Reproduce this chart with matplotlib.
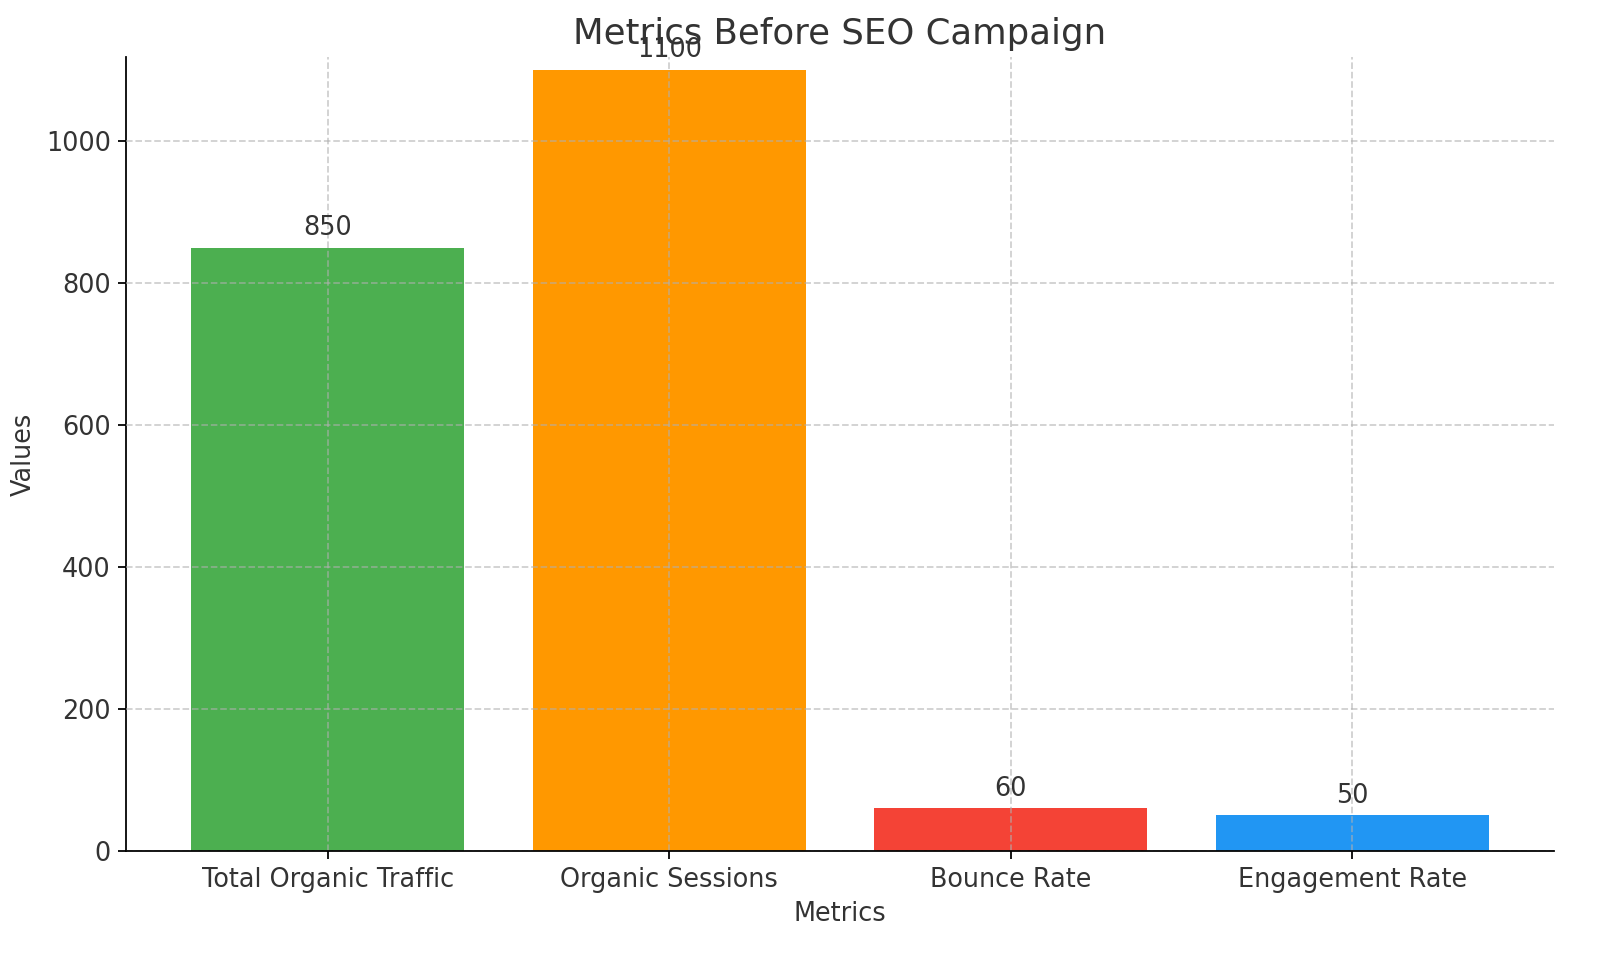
import matplotlib
matplotlib.use("Agg")
import matplotlib.pyplot as plt

metrics = ["Total Organic Traffic", "Organic Sessions", "Bounce Rate", "Engagement Rate"]
values = [850, 1100, 60, 50]
colors = ["#4CAF50", "#FF9800", "#F44336", "#2196F3"]

fig, ax = plt.subplots(figsize=(10, 5.9625), dpi=160)
bars = ax.bar(metrics, values, color=colors)
for b, v in zip(bars, values):
    ax.annotate(f"{v}", (b.get_x() + b.get_width() / 2, v), xytext=(0, 3),
                textcoords="offset points", ha="center", va="bottom", fontsize=11.5,
                color="#333333")

ax.set_title("Metrics Before SEO Campaign", fontsize=16, color="#333333")
ax.set_xlabel("Metrics", fontsize=11.5, color="#333333")
ax.set_ylabel("Values", fontsize=11.5, color="#333333")
ax.set_ylim(0, 1118)
ax.tick_params(labelsize=11.5, labelcolor="#333333")
ax.grid(True, linestyle="--", alpha=0.6)
ax.set_axisbelow(False)
for s in ("top", "right"):
    ax.spines[s].set_visible(False)
ax.spines["bottom"].set_zorder(5)

fig.subplots_adjust(left=0.079, right=0.971, top=0.94, bottom=0.108)
fig.savefig("out.png", dpi=160)
